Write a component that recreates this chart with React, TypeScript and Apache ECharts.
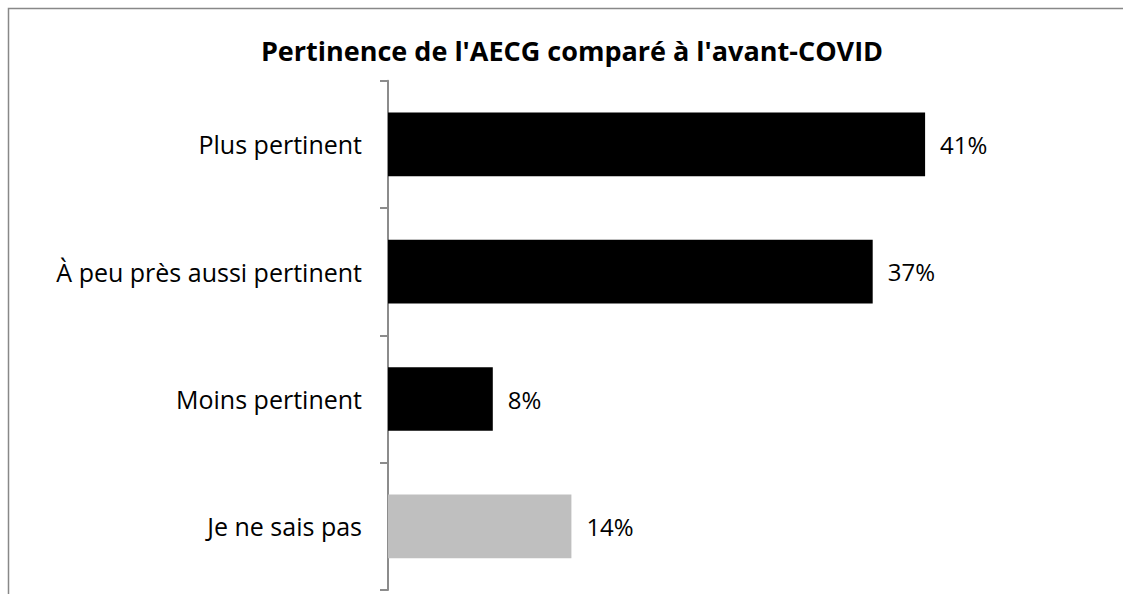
import React, { useEffect, useRef } from "react";
import * as echarts from "echarts";

const categories = ["Plus pertinent", "À peu près aussi pertinent", "Moins pertinent", "Je ne sais pas"];
const values = [41, 37, 8, 14];
const barColors = ["#000000", "#000000", "#000000", "#bfbfbf"];
const titleText = "Pertinence de l'AECG comparé à l'avant-COVID";

export default function App() {
  const ref = useRef<HTMLDivElement>(null);
  useEffect(() => {
    if (!ref.current) return;
    const chart = echarts.init(ref.current, null, { renderer: "svg" });
    const font = "'Open Sans', 'Noto Sans', sans-serif";
    chart.setOption({
      animation: false,
      backgroundColor: "#ffffff",
      title: {
        text: titleText,
        left: 567,
        textAlign: "center",
        top: 32,
        textStyle: { fontFamily: font, fontSize: 27, fontWeight: "bold", color: "#000" },
      },
      graphic: [
        {
          type: "rect",
          shape: { x: 8.5, y: 8.5, width: 1300, height: 800 },
          style: { fill: "none", stroke: "#888888", lineWidth: 1.5 },
          silent: true,
        },
      ],
      grid: { left: 388, top: 80.7, bottom: 4, right: 80, containLabel: false },
      xAxis: {
        type: "value",
        min: 0,
        max: 50,
        show: false,
      },
      yAxis: {
        type: "category",
        data: categories,
        inverse: true,
        axisLine: { show: true, lineStyle: { color: "#8c8c8c", width: 2 } },
        axisTick: { show: true, length: 8, lineStyle: { color: "#8c8c8c", width: 2 } },
        axisLabel: { fontFamily: font, fontSize: 25, color: "#000", margin: 26 },
      },
      series: [
        {
          type: "bar",
          data: values.map((v, i) => ({ value: v, itemStyle: { color: barColors[i] } })),
          barWidth: "50%",
          label: {
            show: true,
            position: "right",
            distance: 15,
            formatter: "{c}%",
            fontFamily: font,
            fontSize: 24,
            color: "#000",
          },
        },
      ],
    });
    return () => chart.dispose();
  }, []);
  return <div ref={ref} style={{ position: "absolute", left: 0, top: 0, width: 1123, height: 594 }} />;
}
